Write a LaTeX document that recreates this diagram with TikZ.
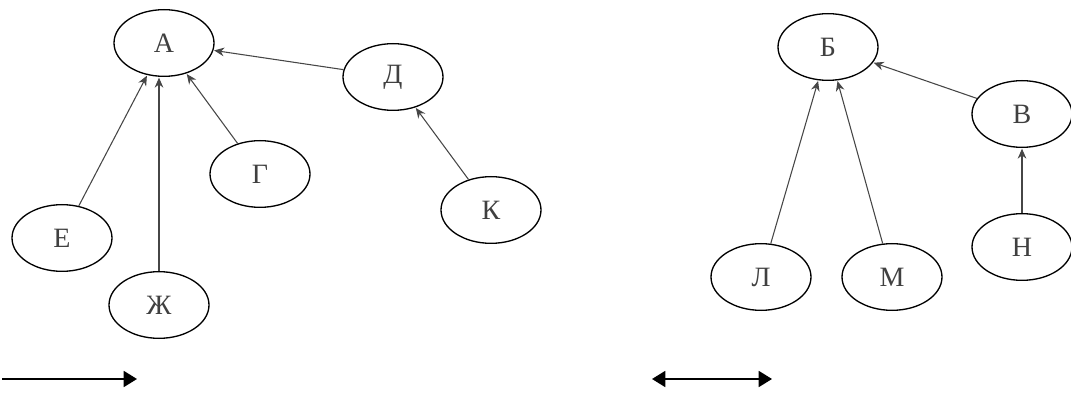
\documentclass[tikz,border=0pt]{standalone}
\usepackage{fontspec}
\setmainfont{Liberation Serif}
\usepackage{tikz}
\usetikzlibrary{shapes.geometric,arrows.meta}
\definecolor{LineGray}{RGB}{70,70,70}

\begin{document}
\begin{tikzpicture}[x=0.75pt, y=-0.75pt,
            vertex/.style={draw, ellipse, line width=1pt, fill=white, text centered, minimum width=75pt, minimum height=50pt, inner sep=0pt, font=\fontsize{21}{24}\selectfont, text=black!75},
            edge/.style={-{Stealth[length=7.5pt, width=6.5pt]}, line width=0.8pt, LineGray, shorten >=0.5pt},
            legend/.style={line width=1.4pt, black}
        ]
            \useasboundingbox (0,0) rectangle (1071,395);

            % left tree
            \node (a) [vertex] at (164,43) {А};
            \node (d) [vertex] at (393,77) {Д};
            \node (g) [vertex] at (260,174) {Г};
            \node (k) [vertex] at (491,210) {К};
            \node (e) [vertex] at (62,238) {Е};
            \node (zh) [vertex] at (159,305) {Ж};

            \draw [edge] (e) -- (a);
            \draw [edge] (zh.north) -- (zh.north |- a.south);
            \draw [edge] (g) -- (a);
            \draw [edge] (d) -- (a);
            \draw [edge] (k) -- (d);

            % right tree
            \node (b) [vertex] at (828,47) {Б};
            \node (v) [vertex] at (1022,114) {В};
            \node (n) [vertex] at (1022,247) {Н};
            \node (l) [vertex] at (761,277) {Л};
            \node (m) [vertex] at (892,277) {М};

            \draw [edge] (l) -- (b);
            \draw [edge] (m) -- (b);
            \draw [edge] (v) -- (b);
            \draw [edge] (n) -- (v);

            % legend arrows
            \coordinate (oneL) at (2,379);
            \coordinate (oneR) at (137,379);
            \coordinate (twoL) at (652,379);
            \coordinate (twoR) at (772,379);
            \draw [legend, -{Triangle[length=10pt, width=12pt]}] (oneL) -- (oneR);
            \draw [legend, {Triangle[length=10pt, width=12pt]}-{Triangle[length=10pt, width=12pt]}] (twoL) -- (twoR);
        \end{tikzpicture}
\end{document}
